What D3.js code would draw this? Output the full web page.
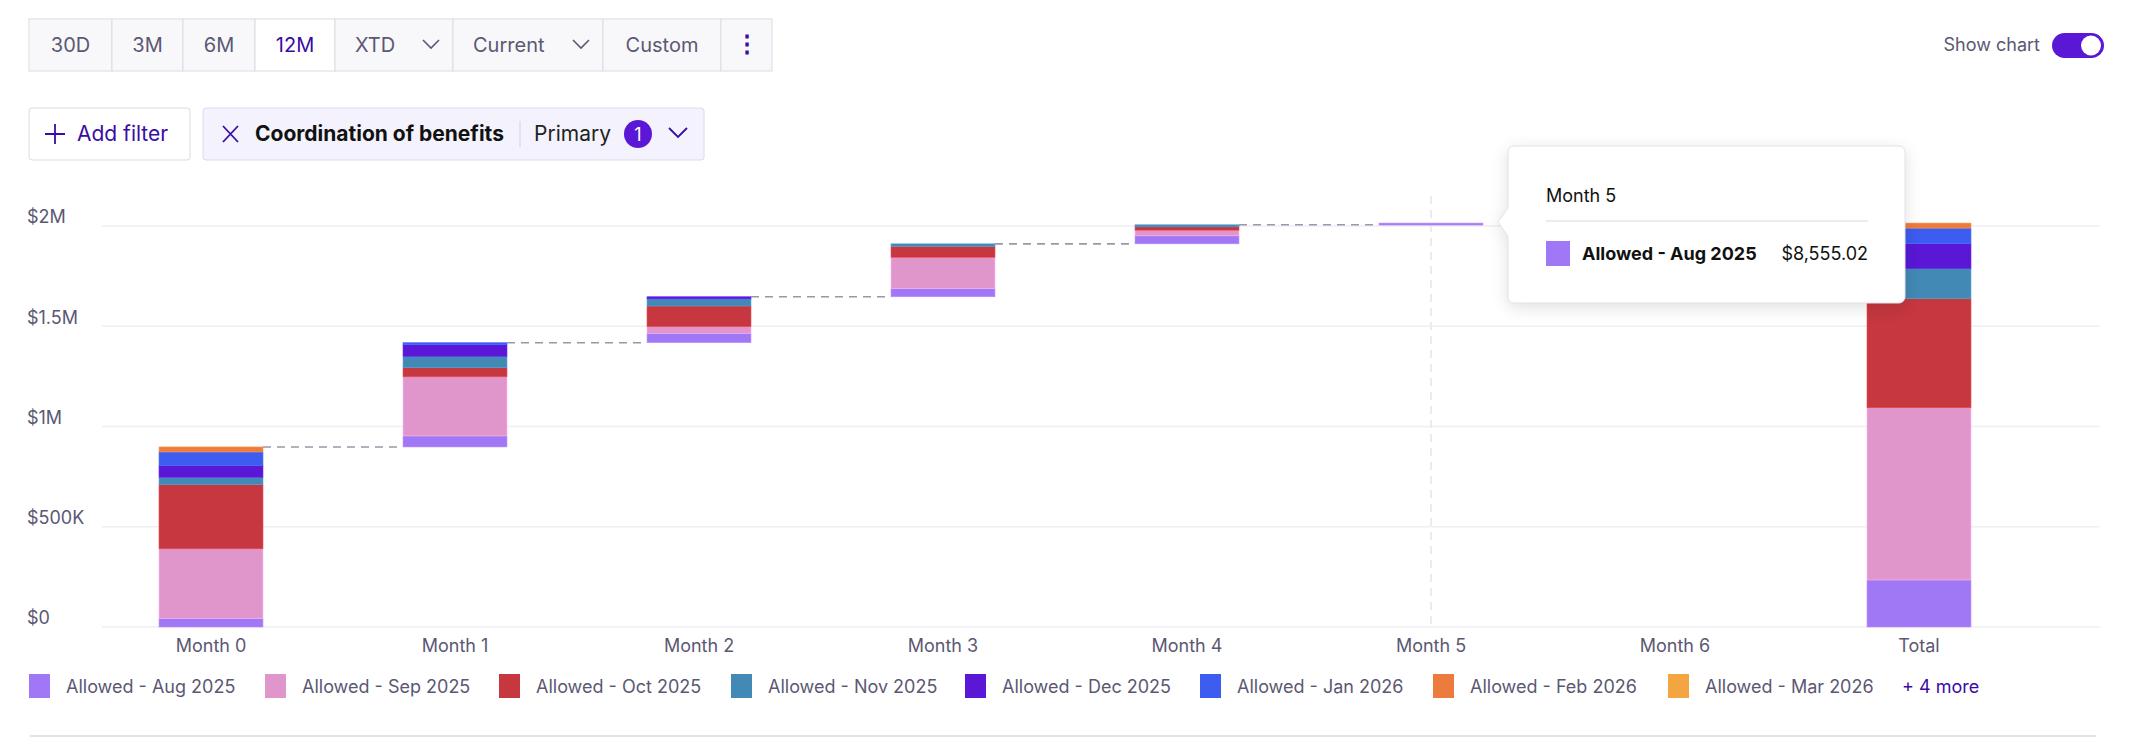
<!DOCTYPE html>
<html><head><meta charset="utf-8">
<script src="https://cdn.jsdelivr.net/npm/d3@7"></script>
<style>
body{margin:0;background:#fff;font-family:Inter,"Noto Sans",sans-serif;}
svg{display:block;}
</style></head>
<body><svg id="svg" width="2138" height="738"></svg>
<script>
// chart data
const categories = ["Month 0","Month 1","Month 2","Month 3","Month 4","Month 5","Month 6"];
const seriesNames = ["Allowed - Aug 2025","Allowed - Sep 2025","Allowed - Oct 2025","Allowed - Nov 2025","Allowed - Dec 2025","Allowed - Jan 2026","Allowed - Feb 2026","Allowed - Mar 2026"];
const seriesColors = ["#a077f5","#e096ca","#c6373f","#4289b5","#5a17d6","#3d5cf0","#ec7c3e","#f2a540"];
// values per month, one row per series (in $)
const aug = [43000, 55000, 47000, 41000, 40000, 8555.02, 0];
const sep = [347000, 295000, 33000, 156000, 28000, 0, 0];
const oct = [320000, 45000, 103000, 54000, 22000, 0, 0];
const nov = [37000, 57000, 38000, 13000, 5000, 0, 0];
const dec = [58000, 58000, 8000, 0, 0, 0, 0];
const jan = [68000, 10000, 0, 0, 0, 0, 0];
const feb = [25000, 0, 0, 0, 0, 0, 0];
const mar = [0, 0, 0, 0, 0, 0, 0];
const yTicks = [0, 500000, 1000000, 1500000, 2000000];
const yTickLabels = ["$0","$500K","$1M","$1.5M","$2M"];
const buttons = ["30D","3M","6M","12M","XTD","Current","Custom","⋮"];

const series = [aug,sep,oct,nov,dec,jan,feb,mar];
const svg = d3.select("#svg");
const txt = "#5b5873";

/* toolbar */
const btnW = [83,71,72,80,118,150,118,51];
let bx = 29;
const tb = svg.append("g");
buttons.forEach((b,i)=>{
  const g = tb.append("g").attr("transform",`translate(${bx},19)`);
  g.append("rect").attr("width",btnW[i]).attr("height",52)
   .attr("fill", b=="12M" ? "#fff" : "#f8f8fa").attr("stroke","#dcdbe3");
  const hasArrow = (b=="XTD"||b=="Current");
  g.append("text").attr("x", hasArrow ? 20 : btnW[i]/2).attr("y",33)
   .attr("text-anchor", hasArrow ? "start":"middle")
   .attr("font-size", b=="⋮" ? 24 : 20).attr("font-weight", b=="⋮" ? 700 : 400)
   .attr("fill", (b=="12M"||b=="⋮") ? "#3a0ca3" : txt).text(b);
  if(hasArrow){
    const ax = btnW[i]-30;
    g.append("path").attr("d",`M${ax},21 l8,8 l8,-8`).attr("fill","none").attr("stroke",txt).attr("stroke-width",1.6);
  }
  bx += btnW[i];
});

// show chart toggle
svg.append("text").attr("x",2040).attr("y",51).attr("text-anchor","end")
   .attr("font-size",18).attr("fill",txt).text("Show chart");
svg.append("rect").attr("x",2052).attr("y",33).attr("width",52).attr("height",25).attr("rx",12.5).attr("fill","#5a17d6");
svg.append("circle").attr("cx",2091).attr("cy",45.5).attr("r",10).attr("fill","#fff");

/* filters */
svg.append("rect").attr("x",29).attr("y",108).attr("width",161).attr("height",52).attr("rx",3)
   .attr("fill","#fff").attr("stroke","#dcdbe3");
svg.append("path").attr("d","M45,134 h20 M55,124 v20").attr("stroke","#3a0ca3").attr("stroke-width",1.8);
svg.append("text").attr("x",77).attr("y",141).attr("font-size",21).attr("fill","#3a0ca3").text("Add filter");
svg.append("rect").attr("x",203).attr("y",108).attr("width",501).attr("height",52).attr("rx",3)
   .attr("fill","#f4f2fc").attr("stroke","#ddd8ee");
svg.append("path").attr("d","M223,126 l15,16 M238,126 l-15,16").attr("stroke","#3a0ca3").attr("stroke-width",1.8);
svg.append("text").attr("x",255).attr("y",141).attr("font-size",21).attr("font-weight",700).attr("fill","#111").text("Coordination of benefits");
svg.append("line").attr("x1",520).attr("x2",520).attr("y1",121).attr("y2",147).attr("stroke","#d5d2e0");
svg.append("text").attr("x",534).attr("y",141).attr("font-size",21).attr("fill","#222").text("Primary");
svg.append("circle").attr("cx",638).attr("cy",134).attr("r",14).attr("fill","#5a17d6");
svg.append("text").attr("x",638).attr("y",141).attr("text-anchor","middle").attr("font-size",18).attr("fill","#fff").text("1");
svg.append("path").attr("d","M669,128 l9,9 l9,-9").attr("fill","none").attr("stroke","#3a0ca3").attr("stroke-width",1.8);

/* chart */
const allCats = categories.concat(["Total"]);
const x = d3.scaleBand().domain(allCats).range([89,2041]).paddingInner(0.574).paddingOuter(0.287);
const y = d3.scaleLinear().domain([0,2000000]).range([627,226]);

const grid = svg.append("g");
grid.selectAll("line").data(yTicks).join("line")
  .attr("x1",102).attr("x2",2100).attr("y1",d=>y(d)).attr("y2",d=>y(d))
  .attr("stroke","#efeff4").attr("stroke-width",1.3);
const yAxis = d3.axisLeft(y).tickValues(yTicks).tickFormat((d,i)=>yTickLabels[i]).tickSize(0);
svg.append("g").attr("transform","translate(30,-9)").call(yAxis)
  .call(g=>g.select(".domain").remove())
  .selectAll("text").attr("text-anchor","start").attr("font-size",18).attr("fill",txt).attr("font-family","Inter");

// hover line at Month 5
svg.append("line").attr("x1",x("Month 5")+x.bandwidth()/2).attr("x2",x("Month 5")+x.bandwidth()/2)
  .attr("y1",196).attr("y2",y(0)).attr("stroke","#ececf0").attr("stroke-width",2).attr("stroke-dasharray","8,6");

const xAxis = d3.axisBottom(x).tickSize(0);
svg.append("g").attr("transform",`translate(0,${y(0)+9})`).call(xAxis)
  .call(g=>g.select(".domain").remove())
  .selectAll("text").attr("font-size",18).attr("fill",txt).attr("font-family","Inter");

// waterfall segments
const segs = [];
let cum = 0;
const tops = [];
categories.forEach((c,j)=>{
  series.forEach((s,i)=>{
    if(s[j]>0){ segs.push({cat:c,i,y0:cum,y1:cum+s[j]}); cum += s[j]; }
  });
  tops.push(cum);
});
let tcum = 0;
series.forEach((s,i)=>{
  const t = d3.sum(s);
  if(t>0){ segs.push({cat:"Total",i,y0:tcum,y1:tcum+t}); tcum += t; }
});

svg.append("g").selectAll("rect").data(segs).join("rect")
  .attr("x",d=>x(d.cat)).attr("width",x.bandwidth())
  .attr("y",d=>y(d.y1)).attr("height",d=>Math.max(2,y(d.y0)-y(d.y1)))
  .attr("fill",d=>seriesColors[d.i]).attr("stroke",d=>d3.color(seriesColors[d.i]).brighter(0.5)).attr("stroke-width",0.6);

// connectors
const conn = [];
for(let j=0;j<categories.length-2;j++) conn.push({a:categories[j],b:categories[j+1],v:tops[j]});
svg.append("g").selectAll("line").data(conn).join("line")
  .attr("x1",d=>x(d.a)+x.bandwidth()).attr("x2",d=>x(d.b))
  .attr("y1",d=>y(d.v)).attr("y2",d=>y(d.v))
  .attr("stroke","#9a98a8").attr("stroke-width",1.6).attr("stroke-dasharray","8,6");

// tooltip
const tt = svg.append("g").attr("transform","translate(1508,146)");
tt.append("path").attr("d","M0,6 a6,6 0 0 1 6,-6 H391 a6,6 0 0 1 6,6 V151 a6,6 0 0 1 -6,6 H6 a6,6 0 0 1 -6,-6 V90 L-10,76 L0,62 Z")
  .attr("fill","#fff").attr("stroke","#e3e2ea").style("filter","drop-shadow(0 4px 8px rgba(0,0,0,0.12))");
tt.append("text").attr("x",38).attr("y",56).attr("font-size",18).attr("fill","#111").text("Month 5");
tt.append("line").attr("x1",38).attr("x2",360).attr("y1",75).attr("y2",75).attr("stroke","#e6e6ea").attr("stroke-width",1.5);
tt.append("rect").attr("x",38).attr("y",95).attr("width",24).attr("height",25).attr("fill",seriesColors[0]);
tt.append("text").attr("x",74).attr("y",114).attr("font-size",18).attr("font-weight",700).attr("fill","#111").text(seriesNames[0]);
tt.append("text").attr("x",360).attr("y",114).attr("text-anchor","end").attr("font-size",18).attr("fill","#111")
  .text("$" + d3.format(",.2f")(aug[5]));

/* legend */
const legX = [29,265,499,731,965,1200,1433,1668];
const leg = svg.append("g").selectAll("g").data(seriesNames).join("g")
  .attr("transform",(d,i)=>`translate(${legX[i]},674)`);
leg.append("rect").attr("width",21).attr("height",24).attr("fill",(d,i)=>seriesColors[i]);
leg.append("text").attr("x",37).attr("y",19).attr("font-size",18).attr("fill",txt).text(d=>d);
svg.append("text").attr("x",1902).attr("y",693).attr("font-size",18).attr("fill","#3a0ca3").text("+ 4 more");

svg.append("line").attr("x1",30).attr("x2",2096).attr("y1",736).attr("y2",736).attr("stroke","#e3e2ea").attr("stroke-width",2);
</script></body></html>
